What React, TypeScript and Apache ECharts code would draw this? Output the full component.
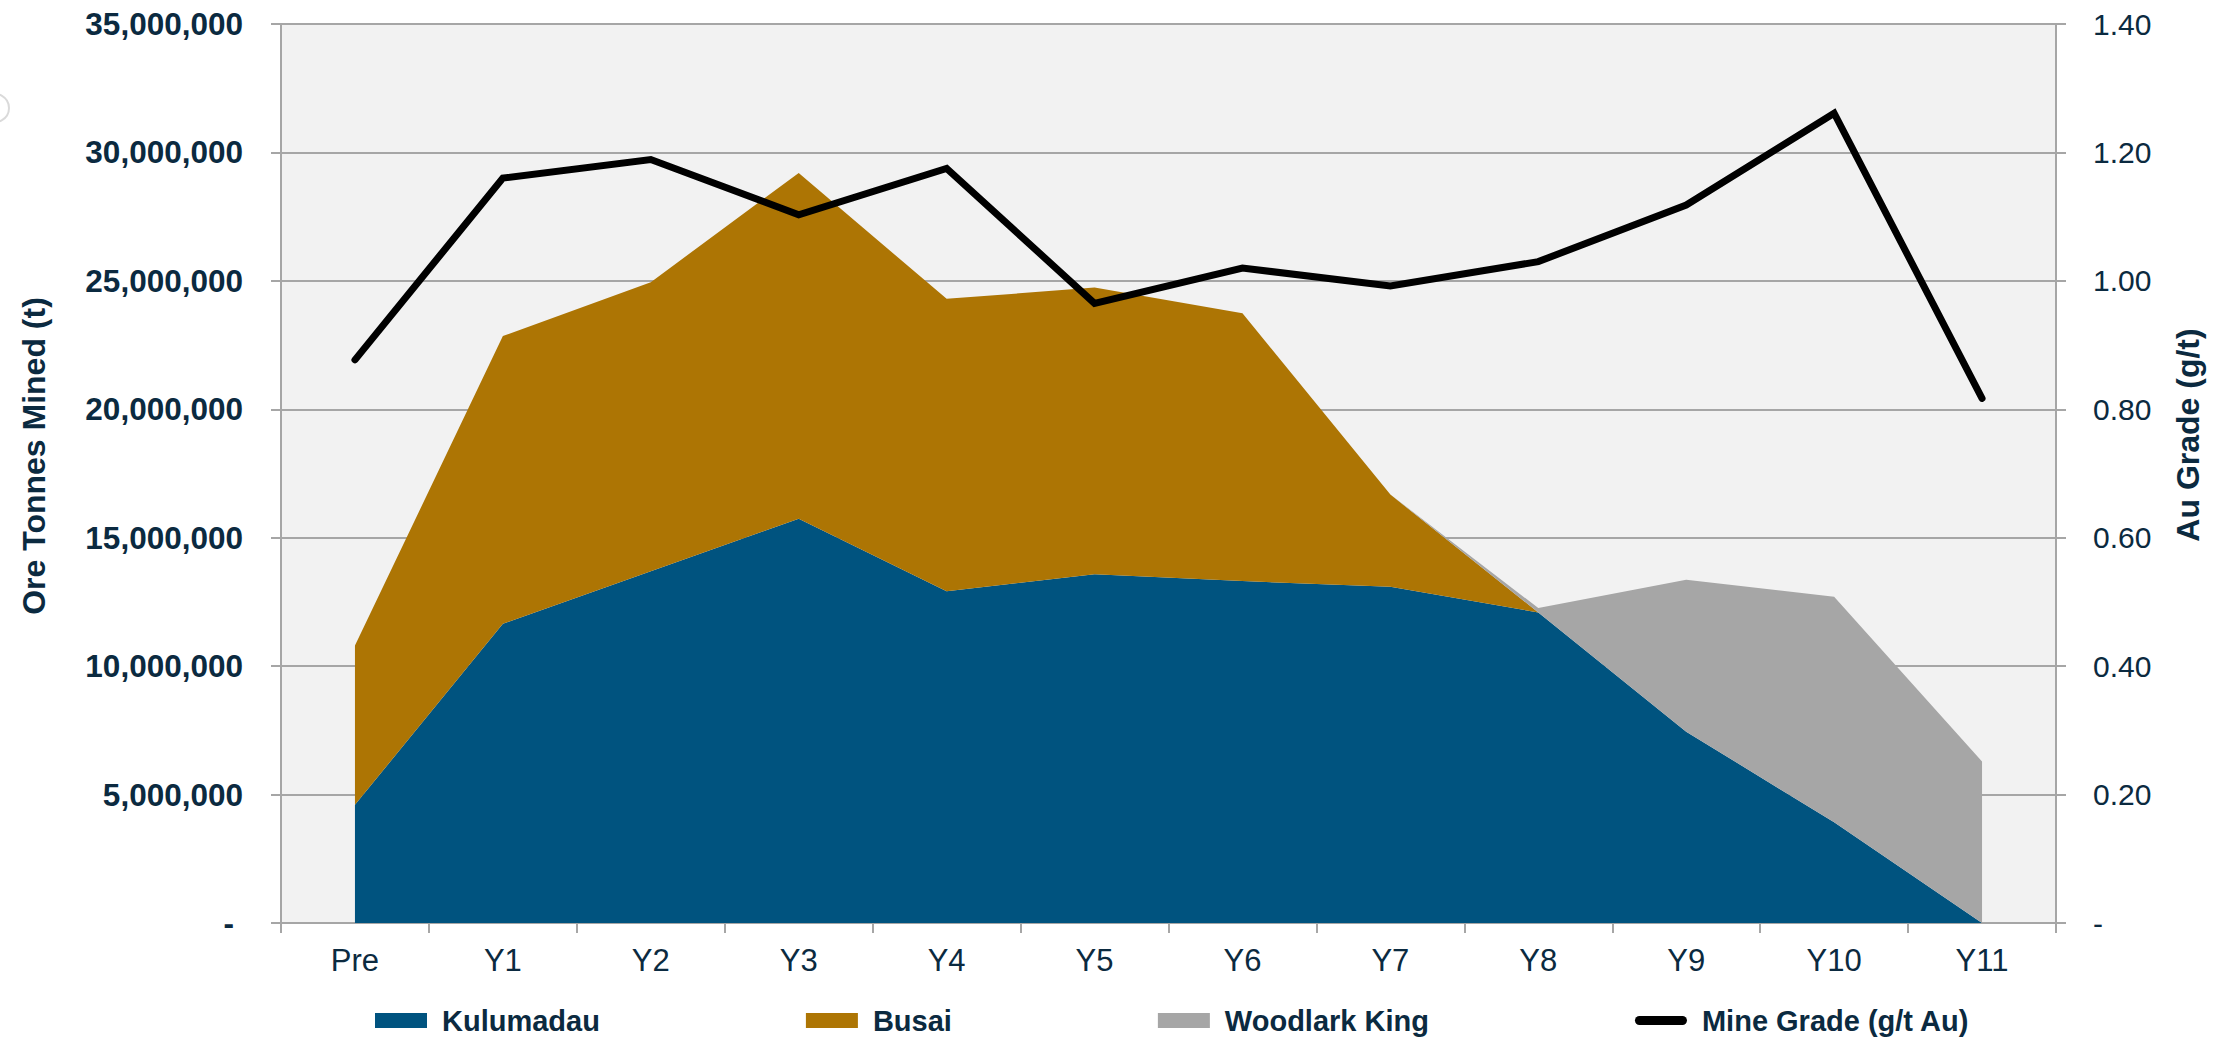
import React, { useEffect, useRef } from 'react';
import * as echarts from 'echarts';

const categories = ['Pre', 'Y1', 'Y2', 'Y3', 'Y4', 'Y5', 'Y6', 'Y7', 'Y8', 'Y9', 'Y10', 'Y11'];
const kulumadau = [4600000, 11650000, 13690000, 15740000, 12920000, 13580000, 13310000, 13090000, 12090000, 7450000, 3920000, 0];
const busai = [6200000, 11200000, 11260000, 13460000, 11380000, 11160000, 10430000, 3590000, 0, 0, 0, 0];
const woodlarkKing = [0, 0, 0, 0, 0, 0, 0, 0, 170000, 5910000, 8780000, 6290000];
const mineGrade = [0.877, 1.16, 1.189, 1.103, 1.175, 0.965, 1.02, 0.992, 1.03, 1.118, 1.261, 0.817];

const seriesNames = ['Kulumadau', 'Busai', 'Woodlark King', 'Mine Grade (g/t Au)'];
const leftAxisTitle = 'Ore Tonnes Mined (t)';
const rightAxisTitle = 'Au Grade (g/t)';

const TEXT = '#0B2A40';
const GRID = '#A6A6A6';
const FONT = '"Liberation Sans", Arial, sans-serif';
const LINE_ICON = 'path://M0,0 M52,15 M4.5,3 L47.5,3 A4.5,4.5 0 0 1 47.5,12 L4.5,12 A4.5,4.5 0 0 1 4.5,3 Z';

function withCommas(v: number): string {
  return String(Math.round(v)).replace(/\B(?=(\d{3})+(?!\d))/g, ',');
}

export default function App() {
  const ref = useRef<HTMLDivElement>(null);
  useEffect(() => {
    if (!ref.current) return;
    const chart = echarts.init(ref.current, undefined, { renderer: 'svg' });
    const areaSeries = (name: string, data: number[], color: string) => ({
      name,
      type: 'line',
      stack: 'ore',
      data,
      symbol: 'none',
      color,
      itemStyle: { color },
      lineStyle: { width: 0, color },
      areaStyle: { color, opacity: 1 },
      emphasis: { disabled: true },
    });
    chart.setOption({
      animation: false,
      backgroundColor: '#ffffff',
      textStyle: { fontFamily: FONT },
      grid: {
        left: 281,
        right: 168,
        top: 24,
        bottom: 115,
        show: true,
        backgroundColor: '#F2F2F2',
        borderWidth: 0,
      },
      legend: {
        left: 375,
        top: 1006,
        padding: 0,
        itemWidth: 52,
        itemHeight: 15,
        itemGap: 206,
        textStyle: {
          color: TEXT,
          fontSize: 29,
          fontWeight: 'bold',
          fontFamily: FONT,
          padding: [0, 0, 0, 10],
        },
        data: [
          { name: seriesNames[0], icon: 'rect', itemStyle: { borderWidth: 0 } },
          { name: seriesNames[1], icon: 'rect', itemStyle: { borderWidth: 0 } },
          { name: seriesNames[2], icon: 'rect', itemStyle: { borderWidth: 0 } },
          { name: seriesNames[3], icon: LINE_ICON, itemStyle: { color: '#000000', borderWidth: 0 }, lineStyle: { width: 0 } },
        ],
      },
      xAxis: {
        type: 'category',
        data: categories,
        boundaryGap: true,
        axisLine: { show: true, lineStyle: { color: GRID, width: 2 } },
        axisTick: { show: true, length: 10, lineStyle: { color: GRID, width: 2 } },
        axisLabel: { color: TEXT, fontSize: 31, margin: 22, fontFamily: FONT },
        splitLine: { show: false },
      },
      yAxis: [
        {
          type: 'value',
          min: 0,
          max: 35000000,
          interval: 5000000,
          axisLine: { show: true, lineStyle: { color: GRID, width: 2 } },
          axisTick: { show: true, length: 10, lineStyle: { color: GRID, width: 2 } },
          axisLabel: {
            color: TEXT,
            fontSize: 31.5,
            fontWeight: 'bold',
            fontFamily: FONT,
            margin: 38,
            formatter: (v: number) => (v === 0 ? '{d|-}' : withCommas(v)),
            rich: {
              d: { color: TEXT, fontSize: 31.5, fontWeight: 'bold', fontFamily: FONT, padding: [0, 9, 0, 0] },
            },
          },
          splitLine: { show: true, lineStyle: { color: GRID, width: 2 } },
        },
        {
          type: 'value',
          min: 0,
          max: 1.4,
          interval: 0.2,
          position: 'right',
          axisLine: { show: true, lineStyle: { color: GRID, width: 2 } },
          axisTick: { show: true, length: 10, lineStyle: { color: GRID, width: 2 } },
          axisLabel: {
            color: TEXT,
            fontSize: 30,
            fontFamily: FONT,
            margin: 37,
            formatter: (v: number) => (v === 0 ? '-' : v.toFixed(2)),
          },
          splitLine: { show: false },
        },
      ],
      graphic: [
        {
          type: 'text',
          x: 34,
          y: 456,
          rotation: Math.PI / 2,
          style: {
            text: leftAxisTitle,
            fill: TEXT,
            font: `bold 32px ${FONT}`,
            textAlign: 'center',
            textVerticalAlign: 'middle',
          },
        },
        {
          type: 'text',
          x: 2188,
          y: 435,
          rotation: Math.PI / 2,
          style: {
            text: rightAxisTitle,
            fill: TEXT,
            font: `bold 32px ${FONT}`,
            textAlign: 'center',
            textVerticalAlign: 'middle',
          },
        },
        {
          type: 'circle',
          shape: { cx: -5, cy: 108, r: 14 },
          style: { fill: 'none', stroke: '#DADADA', lineWidth: 2 },
        },
      ],
      series: [
        areaSeries(seriesNames[0], kulumadau, '#00537F'),
        areaSeries(seriesNames[1], busai, '#AD7504'),
        areaSeries(seriesNames[2], woodlarkKing, '#A6A6A6'),
        {
          name: seriesNames[3],
          type: 'line',
          yAxisIndex: 1,
          data: mineGrade,
          symbol: 'none',
          color: '#000000',
          itemStyle: { color: '#000000' },
          lineStyle: { color: '#000000', width: 7, cap: 'round', join: 'miter' },
          z: 5,
          emphasis: { disabled: true },
        },
      ],
    });
    return () => chart.dispose();
  }, []);
  return (
    <div
      ref={ref}
      style={{ position: 'absolute', left: 0, top: 0, width: 2224, height: 1038 }}
    />
  );
}
